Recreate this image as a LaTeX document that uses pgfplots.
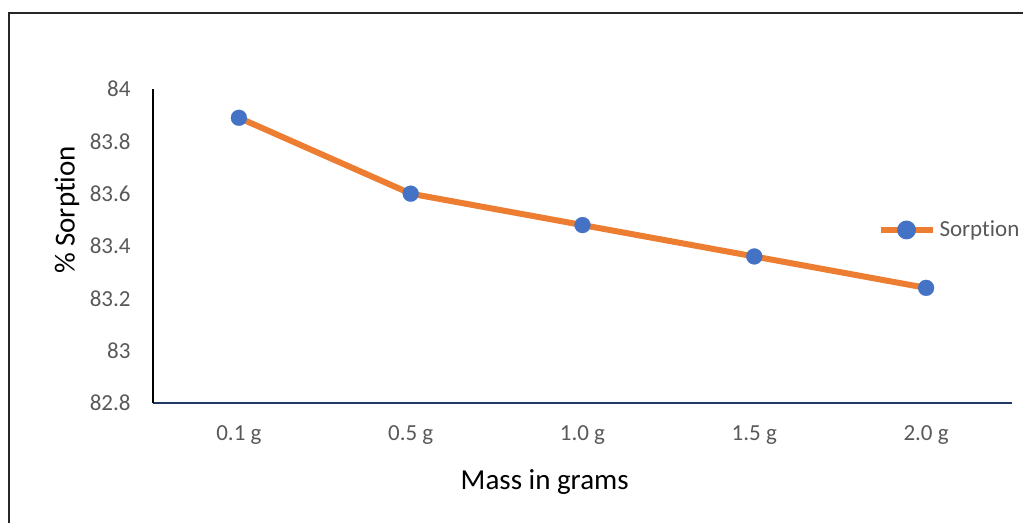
\documentclass[border=0pt]{standalone}
\usepackage{fontspec}
\setmainfont{Carlito}[Ligatures={NoCommon,NoRare,NoContextual}]
\usepackage{pgfplots}
\pgfplotsset{compat=1.18}
\definecolor{sorange}{HTML}{ED7D31}
\definecolor{sblue}{HTML}{4472C4}
\definecolor{tickgray}{HTML}{595959}
\definecolor{axnavy}{HTML}{203864}
\begin{document}
\begin{tikzpicture}
\useasboundingbox (-76.5pt,-60pt) rectangle (435pt,201.5pt);
\begin{axis}[
  at={(0,0)}, anchor=south west,
  scale only axis, width=429.5pt, height=157pt,
  xmin=-0.5, xmax=4.5, ymin=82.8, ymax=84,
  axis x line*=bottom, axis y line*=left,
  x axis line style={axnavy, line width=1pt, -},
  y axis line style={black, line width=0.8pt, -},
  xtick={0,1,2,3,4},
  xticklabels={0.1 g, 0.5 g, 1.0 g, 1.5 g, 2.0 g},
  ytick={82.8,83,83.2,83.4,83.6,83.8,84},
  major tick length=0pt,
  /pgf/number format/assume math mode=true,
  tick label style={font=\fontsize{11.5}{13}\selectfont, text=tickgray},
  yticklabel style={xshift=-7.7pt},
  xticklabel style={yshift=-8pt},
  xlabel={Mass in grams},
  ylabel={\% Sorption},
  label style={font=\fontsize{14.5}{17}\selectfont, text=black},
  xlabel style={at={(axis description cs:0.456,-0.252)}, anchor=center},
  ylabel style={at={(axis description cs:-0.1,0.615)}, anchor=center, rotate=0},
  legend style={at={(axis description cs:0.843,0.551)}, anchor=west, draw=none, fill=none,
    font=\fontsize{11.5}{13}\selectfont, text=tickgray, inner sep=0pt},
  legend image code/.code={
    \draw[sorange, line width=3pt] (0pt,0pt) -- (26pt,0pt);
    \fill[sblue] (13pt,0pt) circle (3.2pt);
  },
  clip=false,
]
\addplot[sorange, line width=3pt, line join=round, mark=*, mark size=4pt,
  mark options={solid, line width=0.1pt, draw=sblue, fill=sblue}] coordinates {
  (0,83.89) (1,83.60) (2,83.48) (3,83.36) (4,83.24)
};
\addlegendentry{Sorption}
\end{axis}
\draw[line width=0.6pt, black!85] (-72pt,-60pt) -- (-72pt,195pt) -- (435pt,195pt);
\end{tikzpicture}
\end{document}
